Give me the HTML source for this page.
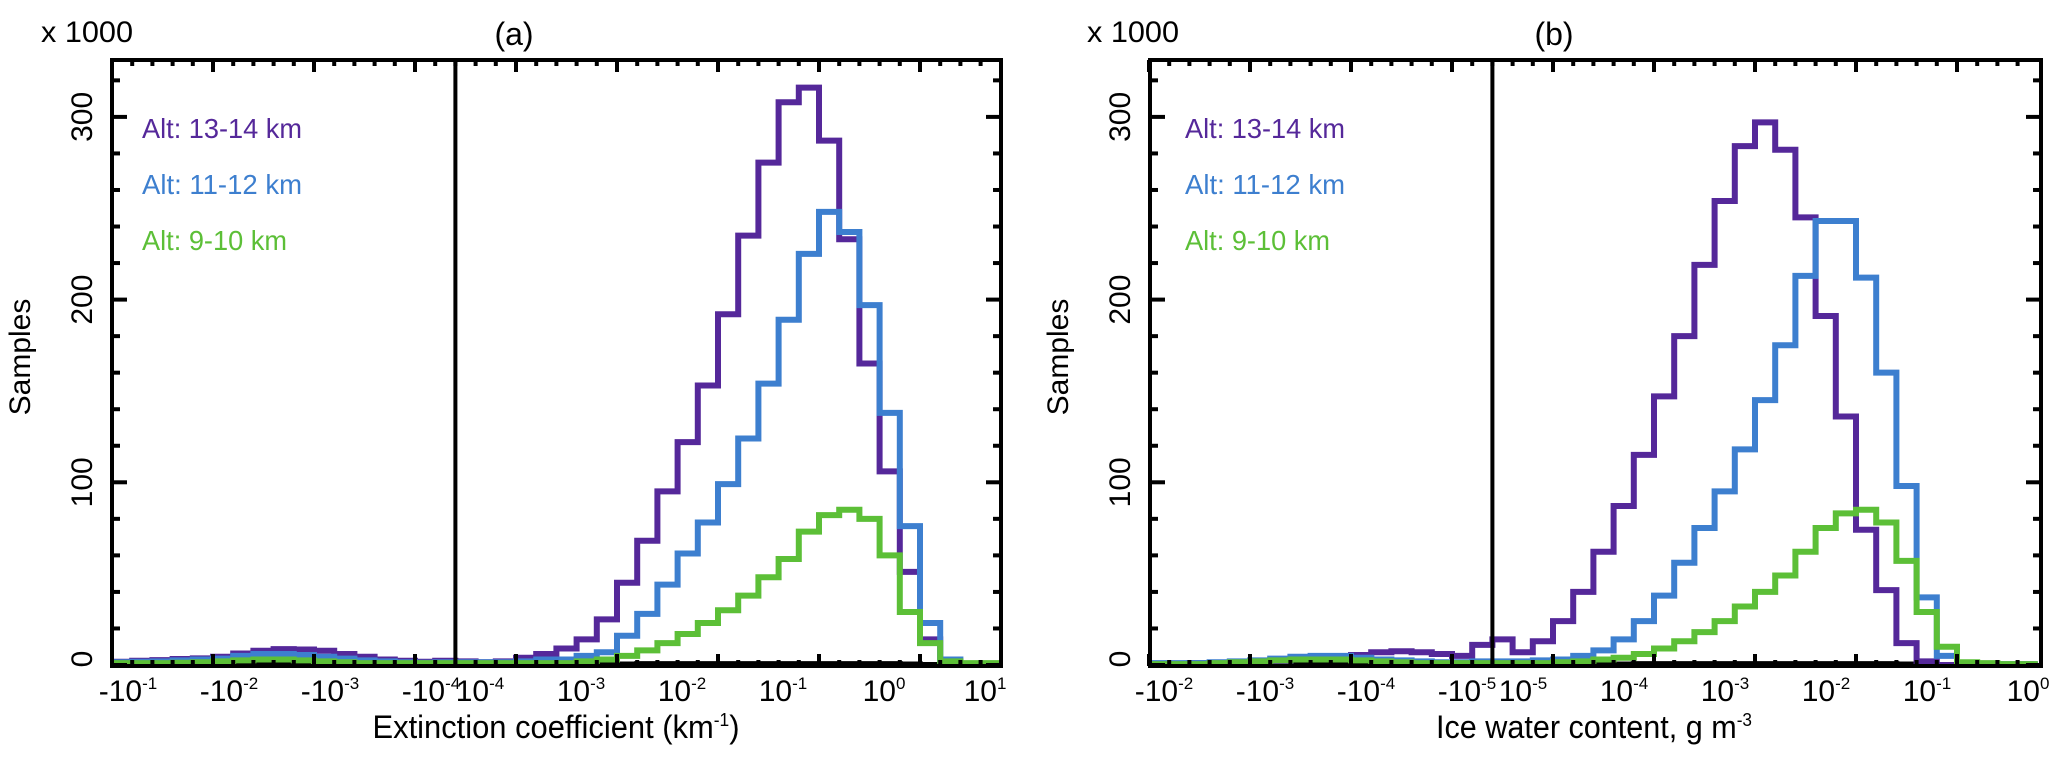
<!DOCTYPE html>
<html><head><meta charset="utf-8"><style>
html,body{margin:0;padding:0;background:#fff;}
svg{display:block;font-family:"Liberation Sans",sans-serif;}
</style></head><body>
<svg id="fig" width="2067" height="759" viewBox="0 0 2067 759" xmlns="http://www.w3.org/2000/svg"></svg>
<script>
// ---------- Panel (a) data: extinction coefficient ----------
const aNegExp = [-1.0,-1.2,-1.4,-1.6,-1.8,-2.0,-2.2,-2.4,-2.6,-2.8,-3.0,-3.2,-3.4,-3.6,-3.8,-4.0,-4.2];
const aNegPurple = [1.8,2.3,2.7,3.3,3.6,4.5,6.3,7.8,8.7,8.5,7.8,6,4.5,3,2.3,1.8,2.3];
const aNegBlue   = [1.5,1.8,2,2.5,3,3.5,5,6,6,5.5,4.5,3.5,2.5,2,1.5,1.2,1.5];
const aNegGreen  = [1,1,1,1.2,1.5,2,2.5,3,3,2.5,2,1.5,1,1,1,1,1];
const aNegBlack  = [0,0,0,0,0,0,0.5,1,1,1,0.8,0.5,0,0,0,0,0];
const aPosExp = [-4.6,-4.4,-4.2,-4.0,-3.8,-3.6,-3.4,-3.2,-3.0,-2.8,-2.6,-2.4,-2.2,-2.0,-1.8,-1.6,-1.4,-1.2,-1.0,-0.8,-0.6,-0.4,-0.2,0.0,0.2,0.4,0.6];
const aPosPurple = [2,1.5,2,4,6,9,14,25,45,68,95,122,153,192,235,275,308,316,287,233,165,106,51,14,2,0,0];
const aPosBlue   = [1.5,1.5,1.5,2,3,3,5,7,16,28,44,61,78,99,124,154,189,225,248,237,197,138,76,23,3,0.5,0.5];
const aPosGreen  = [1,1,1,1,1,1,2,3,5,8,12,17,23,30,38,48,58,73,82,85,80,60,29,12,2,1,1];
const aPosBlack  = [0,0,0,0,0,0,0,0,0.3,0.5,0.5,0.5,0.5,0.5,0.5,0.5,0.5,0.5,0.5,0.5,0.5,0.5,0.3,0,0,0,0];
// ---------- Panel (b) data: ice water content ----------
const bNegExp = [-2.0,-2.2,-2.4,-2.6,-2.8,-3.0,-3.2,-3.4,-3.6,-3.8,-4.0,-4.2,-4.4,-4.6,-4.8,-5.0,-5.2];
const bNegPurple = [0.5,0.5,1,1,1,1.5,2,3,4,4.5,5.5,7,7.5,7,6,5,11];
const bNegBlue   = [1,1,1,1.5,2,2.5,3.5,4.5,5,5,4,3,2.5,2,1.5,1.5,2];
const bNegGreen  = [0.5,0.5,0.5,1,1.5,2,2.5,3,3,3,2.5,2,1.5,1,1,1,1];
const bNegBlack  = [0,0,0,0,0,0.3,0.8,1,1,1,0.8,0.5,0,0,0,0,0];
const bPosExp = [-5.6,-5.4,-5.2,-5.0,-4.8,-4.6,-4.4,-4.2,-4.0,-3.8,-3.6,-3.4,-3.2,-3.0,-2.8,-2.6,-2.4,-2.2,-2.0,-1.8,-1.6,-1.4,-1.2,-1.0,-0.8,-0.6,-0.4];
const bPosPurple = [14,7,13,24,40,62,87,115,147,180,219,254,284,297,282,245,191,136,74,41,12,2,0,0,0,0,0];
const bPosBlue   = [2,2,2.5,3,5,8,14,24,38,56,75,95,118,145,175,213,243,243,212,160,98,37,5,1,0.5,0.5,0.5];
const bPosGreen  = [1,1,1,1.5,2,3,4,6,9,13,18,24,32,40,49,62,75,83,85,78,57,29,10,1.5,1,0.5,0.5];
const bPosBlack  = [0,0,0,0,0,0,0.3,0.5,0.5,0.5,0.5,0.5,0.5,0.5,0.5,0.5,0.5,0.5,0.5,0.5,0.3,0,0,0,0,0,0];
// tick labels
const yTicks = [0,100,200,300];
const aNegTickExp = [-1,-2,-3,-4];
const aPosTickExp = [-4,-3,-2,-1,0,1];
const bNegTickExp = [-2,-3,-4,-5];
const bPosTickExp = [-5,-4,-3,-2,-1,0];
const seriesNames = ["Alt: 13-14 km","Alt: 11-12 km","Alt: 9-10 km"];
const seriesColors = ["#55289a","#3d7fcf","#5cbf37"];

const NS="http://www.w3.org/2000/svg";
const svg=document.getElementById('fig');
function mk(tag,attrs,parent){const e=document.createElementNS(NS,tag);for(const k in attrs)e.setAttribute(k,attrs[k]);(parent||svg).appendChild(e);return e;}

const Y0=665, KY=1.827, TOP=60, BOT=666, D=101;
function yS(v){return Y0-v*KY;}

function panel(cfg){
  const g=mk('g',{});
  
  
  function xNeg(e){return cfg.negStart+(cfg.negFirst-e)*D;}
  function xPos(e){return cfg.posStart+(e-cfg.posFirst)*D;}
  const L=cfg.left,R=cfg.right,mid=xNeg(cfg.negExp[cfg.negExp.length-1]-0.2);
  const clipId='clip'+cfg.id;
  const cp=mk('clipPath',{id:clipId},g);mk('rect',{x:L,y:TOP,width:R-L,height:BOT-TOP},cp);
  const sets=[[cfg.negK,cfg.posK,'#000','black-series'],[cfg.negP,cfg.posP,seriesColors[0],'histogram-13-14km'],[cfg.negB,cfg.posB,seriesColors[1],'histogram-11-12km'],[cfg.negG,cfg.posG,seriesColors[2],'histogram-9-10km']];
  sets.forEach((s)=>{
    let d='';
    cfg.negExp.forEach((e,i)=>{const x0=xNeg(e),x1=xNeg(e-0.2),y=yS(s[0][i]);d+=(d?'L':'M')+x0+' '+y+'L'+x1+' '+y;});
    cfg.posExp.forEach((e,i)=>{const x0=xPos(e),x1=xPos(e+0.2),y=yS(s[1][i]);d+='L'+x0+' '+y+'L'+x1+' '+y;});
    const p=mk('path',{d:d,fill:'none',stroke:s[2],'stroke-width':6,'stroke-linejoin':'miter','clip-path':'url(#'+clipId+')'},g);
    
    
  });
  const ml=mk('line',{x1:mid,x2:mid,y1:TOP,y2:BOT,stroke:'#000','stroke-width':4},g);
  
  
  const fr=mk('rect',{x:L,y:TOP,width:R-L,height:BOT-TOP,fill:'none',stroke:'#000','stroke-width':4},g);
  
  
  for(let v=0;v<=320;v+=20){const y=yS(v),maj=v%100===0,len=maj?15:8;
    mk('line',{x1:L,x2:L+len,y1:y,y2:y,stroke:'#000','stroke-width':4},g);
    mk('line',{x1:R,x2:R-len,y1:y,y2:y,stroke:'#000','stroke-width':4},g);}
  yTicks.forEach(v=>{const t=mk('text',{x:0,y:0,'font-size':30,'text-anchor':'middle',transform:'translate('+(L-20)+','+(v===0?yS(v)-6:yS(v))+') rotate(-90)'},g);t.textContent=v;
    
    });
  function xt(x,maj){const len=maj?12:6;if(x<L-1||x>R+1)return;
    mk('line',{x1:x,x2:x,y1:BOT,y2:BOT-len,stroke:'#000','stroke-width':4},g);
    mk('line',{x1:x,x2:x,y1:TOP,y2:TOP+len,stroke:'#000','stroke-width':4},g);}
  cfg.negExp.forEach(e=>xt(xNeg(e),Math.abs(e-Math.round(e))<0.01));
  cfg.posExp.forEach(e=>xt(xPos(e),Math.abs(e-Math.round(e))<0.01));
  function lab(x,neg,e){const t=mk('text',{x:x,y:701,'font-size':30,'text-anchor':'middle'},g);
    
    
    const a=mk('tspan',{},t);a.textContent=(neg?'-':'')+'10';
    const b=mk('tspan',{dy:-12,'font-size':17},t);b.textContent=String(e);}
  cfg.negTicks.forEach(e=>lab(xNeg(e)+cfg.negOff,true,e));
  cfg.posTicks.forEach(e=>lab(xPos(e)+cfg.posOff,false,e));
  const xtl=mk('text',{x:cfg.xtX,y:738,'font-size':32,'text-anchor':'middle',textLength:cfg.xtW,lengthAdjust:'spacingAndGlyphs'},g);
  
  
  const s1=mk('tspan',{},xtl);s1.textContent=cfg.xt1;
  const s2=mk('tspan',{dy:-12,'font-size':18},xtl);s2.textContent=cfg.xtSup;
  if(cfg.xt3){const s3=mk('tspan',{dy:12},xtl);s3.textContent=cfg.xt3;}
  const yt=mk('text',{x:0,y:0,'font-size':30,'text-anchor':'middle',transform:'translate('+(cfg.ytX)+',357) rotate(-90)'},g);yt.textContent='Samples';
  
  
  const sc=mk('text',{x:cfg.scX,y:42,'font-size':30,textLength:92,lengthAdjust:'spacingAndGlyphs'},g);sc.textContent='x 1000';
  
  
  const pt=mk('text',{x:cfg.ptX,y:45,'font-size':32,'text-anchor':'middle'},g);pt.textContent=cfg.title;
  
  
  seriesNames.forEach((n,i)=>{const t=mk('text',{x:cfg.lgX,y:138+i*56,'font-size':28,fill:seriesColors[i],textLength:[160,160,145][i],lengthAdjust:'spacingAndGlyphs'},g);t.textContent=n;
    
    });
}

panel({id:'a',name:'panel-a-extinction',left:112,right:1001,negStart:112,negFirst:-1,posStart:516,posFirst:-4,
  negExp:aNegExp,posExp:aPosExp,negP:aNegPurple,posP:aPosPurple,negB:aNegBlue,posB:aPosBlue,negG:aNegGreen,posG:aPosGreen,negK:aNegBlack,posK:aPosBlack,
  negTicks:aNegTickExp,posTicks:aPosTickExp,negOff:16,posOff:-36,
  xt1:'Extinction coefficient (km',xtSup:'-1',xt3:')',xtX:556,xtW:367,ytX:30,scX:41,ptX:514,title:'(a)',lgX:142});
panel({id:'b',name:'panel-b-ice-water',left:1150,right:2041,negStart:1149,negFirst:-2,posStart:1553,posFirst:-5,
  negExp:bNegExp,posExp:bPosExp,negP:bNegPurple,posP:bPosPurple,negB:bNegBlue,posB:bPosBlue,negG:bNegGreen,posG:bPosGreen,negK:bNegBlack,posK:bPosBlack,
  negTicks:bNegTickExp,posTicks:bPosTickExp,negOff:15,posOff:-30,
  xt1:'Ice water content, g m',xtSup:'-3',xt3:'',xtX:1594,xtW:316,ytX:1068,scX:1087,ptX:1554,title:'(b)',lgX:1185});
</script>
</body></html>
